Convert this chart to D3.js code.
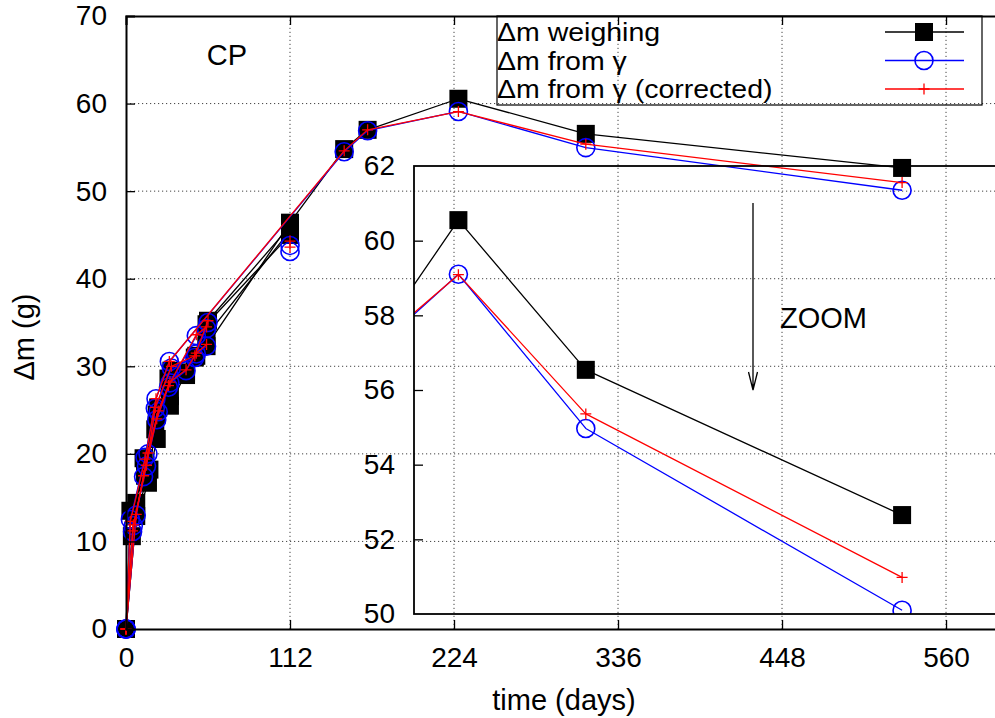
<!DOCTYPE html>
<html><head><meta charset="utf-8">
<script src="https://cdn.jsdelivr.net/npm/d3@7"></script>
<style>body{margin:0;background:#fff}svg{display:block}text{font-family:"Liberation Sans",Arial,sans-serif;fill:#000}</style>
</head><body><svg id="c" width="995" height="718"></svg>
<script>
// ---------------- data (days, grams) ----------------
const xTicks = [0, 112, 224, 336, 448, 560];
const yTicks = [0, 10, 20, 30, 40, 50, 60, 70];
const insetYTicks = [50, 52, 54, 56, 58, 60, 62];
const seriesNames = ["\u0394m weighing", "\u0394m from \u03b3", "\u0394m from \u03b3 (corrected)"];

const weighingDays = [
  [0, 4, 15, 21, 30, 41, 55, 112, 149, 165, 227, 314, 530],
  [0, 7, 16, 20, 30, 48, 55, 112],
  [0, 7, 12, 21, 29, 47, 56, 112],
  [0, 3, 13, 22, 31, 41, 55, 112]
];
const weighingValues = [
  [0, 10.6, 16.7, 21.7, 25.5, 29.3, 32.3, 46.4, 54.8, 57.0, 60.55, 56.54, 52.65],
  [0, 12.9, 18.2, 22.8, 26.6, 31.2, 33.5, 45.5],
  [0, 14.4, 19.5, 24.5, 28.6, 31.0, 35.2, 46.0],
  [0, 13.5, 17.5, 25.3, 29.5, 29.0, 34.8, 45.0]
];
const gammaDays = [
  [0, 3, 13, 20.5, 29.6, 149, 165, 227, 314, 530],
  [0, 4.5, 12, 21, 30, 41, 48, 55],
  [0, 7, 15, 22, 29, 48, 55],
  [0, 5, 14, 20, 31, 47, 56],
  [112],
  [112]
];
const gammaValues = [
  [0, 12.5, 19.6, 26.3, 30.55, 54.5, 56.9, 59.1, 54.97, 50.1],
  [0, 11.1, 17.4, 23.9, 28.1, 29.5, 31.4, 32.3],
  [0, 13.0, 20.0, 24.8, 27.6, 33.5, 34.3],
  [0, 11.8, 18.6, 25.2, 29.8, 31.0, 35.0],
  [43.8],
  [43.1]
];
const correctedDays = gammaDays;
const correctedValues = [
  [0, 12.3, 19.4, 26.3, 30.55, 54.6, 57.0, 59.09, 55.36, 50.98],
  [0, 11.2, 17.5, 24.0, 28.2, 29.6, 31.5, 32.5],
  [0, 13.1, 20.1, 24.9, 27.8, 33.6, 34.5],
  [0, 11.9, 18.7, 25.3, 30.0, 31.2, 35.2],
  [44.3],
  [43.6]
];

// ---------------- layout ----------------
const svg = d3.select("#c");
const FS = 28;   // tick labels
const TS = 29;   // other text
const LS = 25;   // legend text (horizontally widened)
const FONT = '"Liberation Sans", Arial, sans-serif';
const x = d3.scaleLinear().domain([0, 600]).range([126, 1004.6]);
const y = d3.scaleLinear().domain([0, 70]).range([629, 16]);
const insetLeft = 414;
const yi = d3.scaleLinear().domain([50, 62]).range([614, 166]);

const runs = (daysArr, valsArr) => daysArr.map((ds, i) => ds.map((d, j) => [d, valsArr[i][j]]));
const series = [
  {runs: runs(weighingDays, weighingValues), color: "#000000", marker: "square"},
  {runs: runs(gammaDays, gammaValues), color: "#0000ff", marker: "circle"},
  {runs: runs(correctedDays, correctedValues), color: "#ff0000", marker: "plus"}
];

function drawMarker(g, type, color, cx, cy) {
  if (type === "square") {
    g.append("rect").attr("x", cx - 9).attr("y", cy - 9).attr("width", 18).attr("height", 18).attr("fill", color);
  } else if (type === "circle") {
    g.append("circle").attr("cx", cx).attr("cy", cy).attr("r", 9).attr("fill", "none").attr("stroke", color).attr("stroke-width", 1.6);
  } else {
    g.append("path").attr("d", `M${cx - 5.5},${cy}H${cx + 5.5}M${cx},${cy - 5.5}V${cy + 5.5}`).attr("stroke", color).attr("stroke-width", 1.3).attr("fill", "none");
  }
}

// grid
const grid = svg.append("g").attr("stroke", "#444").attr("stroke-width", 1).attr("stroke-dasharray", "1.2,2.8");
xTicks.filter(t => t > 0).forEach(t => grid.append("line").attr("x1", x(t)).attr("x2", x(t)).attr("y1", y(0)).attr("y2", y(70)));
yTicks.filter(t => t > 0 && t < 70).forEach(t => grid.append("line").attr("x1", x(0)).attr("x2", x(600)).attr("y1", y(t)).attr("y2", y(t)));

// series drawing
function drawSeries(g, sx, sy, filterFn) {
  series.forEach(s => {
    const line = d3.line().x(d => sx(d[0])).y(d => sy(d[1]));
    s.runs.forEach(r => {
      if (r.length > 1) g.append("path").attr("d", line(r)).attr("fill", "none").attr("stroke", s.color).attr("stroke-width", 1.3).attr("stroke-linejoin", "round");
    });
    s.runs.forEach(r => r.forEach(p => { if (filterFn(p)) drawMarker(g, s.marker, s.color, sx(p[0]), sy(p[1])); }));
  });
}
drawSeries(svg.append("g"), x, y, () => true);

// axes main
const axB = svg.append("g").attr("transform", `translate(0,${y(0)})`)
  .call(d3.axisBottom(x).tickValues(xTicks).tickSize(-9).tickPadding(18).tickFormat(d3.format("d")));
const axL = svg.append("g").attr("transform", `translate(${x(0)},0)`)
  .call(d3.axisLeft(y).tickValues(yTicks).tickSize(-9).tickPadding(19).tickFormat(d3.format("d")));
const axT = svg.append("g").attr("transform", `translate(0,${y(70)})`)
  .call(d3.axisTop(x).tickValues(xTicks).tickSize(-9).tickFormat(""));
[axB, axL, axT].forEach(a => {
  a.select(".domain").attr("stroke-width", 2);
  a.selectAll(".tick line").attr("stroke-width", 1.3);
  a.selectAll("text").attr("font-size", FS).attr("font-family", FONT);
});
axB.selectAll(".tick").filter(d => d === 0).select("line").remove();
axL.selectAll(".tick").filter(d => d === 0 || d === 70).select("line").remove();

// axis titles
svg.append("text").attr("x", 564).attr("y", 710).attr("text-anchor", "middle").attr("font-size", TS).text("time (days)");
svg.append("text").attr("transform", "translate(34,337) rotate(-90)").attr("text-anchor", "middle").attr("font-size", TS).text("\u0394m (g)");
svg.append("text").attr("x", 227).attr("y", 65).attr("text-anchor", "middle").attr("font-size", TS).text("CP");

// legend
const lg = svg.append("g");
lg.append("rect").attr("x", 497).attr("y", 16).attr("width", 485).attr("height", 89).attr("fill", "none").attr("stroke", "#000").attr("stroke-width", 1.2);
const legY = [32, 60.5, 89];
series.forEach((s, i) => {
  lg.append("text").attr("transform", `translate(497,${legY[i] + 9}) scale(1.14,1)`).attr("font-size", LS).text(seriesNames[i]);
  lg.append("line").attr("x1", 885).attr("x2", 964).attr("y1", legY[i]).attr("y2", legY[i]).attr("stroke", s.color).attr("stroke-width", 1.3);
  drawMarker(lg, s.marker, s.color, 924, legY[i]);
});

// inset
const ins = svg.append("g");
svg.append("clipPath").attr("id", "insclip").append("rect").attr("x", insetLeft).attr("y", 166).attr("width", 700).attr("height", 448);
const insData = ins.append("g").attr("clip-path", "url(#insclip)");
drawSeries(insData, x, yi, p => x(p[0]) >= insetLeft && p[1] >= 50 && p[1] <= 62);
ins.append("rect").attr("x", insetLeft).attr("y", 166).attr("width", 700).attr("height", 448).attr("fill", "none").attr("stroke", "#000").attr("stroke-width", 1.8);
const axI = ins.append("g").attr("transform", `translate(${insetLeft},0)`)
  .call(d3.axisLeft(yi).tickValues(insetYTicks).tickSize(-9).tickPadding(19).tickFormat(d3.format("d")));
axI.select(".domain").remove();
axI.selectAll(".tick line").attr("stroke-width", 1.3);
axI.selectAll("text").attr("font-size", FS).attr("font-family", FONT);
axI.selectAll(".tick").filter(d => d === 50 || d === 62).select("line").remove();

// ZOOM label and arrow
svg.append("text").attr("x", 780).attr("y", 328).attr("font-size", TS).text("ZOOM");
svg.append("path").attr("d", "M753,203V390M748.5,372L753,390L757.5,372").attr("fill", "none").attr("stroke", "#000").attr("stroke-width", 1.3);
</script></body></html>
